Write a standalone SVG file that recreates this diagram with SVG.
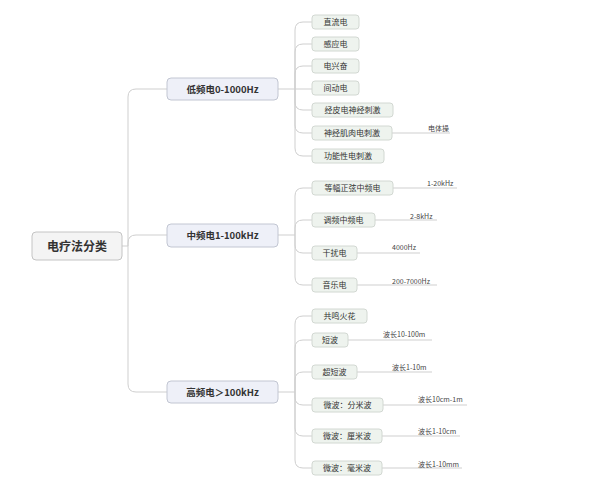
<svg xmlns="http://www.w3.org/2000/svg" width="592" height="484" viewBox="0 0 592 484">
<style>
text{font-family:"Noto Sans CJK SC","Noto Sans",sans-serif;fill:#333;}
.root rect{fill:#f4f4f4;stroke:#c4c4c4;stroke-width:1;}
.root text{font-size:12px;font-weight:bold;}
.mid rect{fill:#eef0f8;stroke:#c2c6d2;stroke-width:1;}
.mid text{font-size:9.5px;font-weight:bold;}
.leaf rect{fill:#eef3ee;stroke:#d2d8d2;stroke-width:1;}
.leaf text{font-size:8px;}
.lbl{font-size:7px;fill:#444;}
.con path{fill:none;stroke:#cfcfcf;stroke-width:1;}
</style>
<rect width="592" height="484" fill="#fff"/>
<g class="con">
<path d="M122,246 H128 V97 Q128,89 136,89 H167"/>
<path d="M128,246 V243 Q128,235 136,235 H167"/>
<path d="M128,246 V384 Q128,392 136,392 H167"/>
<path d="M278,89 H295"/>
<path d="M295,89 V30 Q295,22 303,22 H312"/>
<path d="M295,89 V52 Q295,44 303,44 H312"/>
<path d="M295,89 V74 Q295,66 303,66 H312"/>
<path d="M295,89 H312"/>
<path d="M295,89 V102 Q295,110 303,110 H312"/>
<path d="M295,89 V125 Q295,133 303,133 H312"/>
<path d="M295,89 V148 Q295,156 303,156 H312"/>
<path d="M392,133 H450"/>
<path d="M278,235 H295"/>
<path d="M295,235 V196 Q295,188 303,188 H312"/>
<path d="M295,235 V228 Q295,220 303,220 H312"/>
<path d="M295,235 V245 Q295,253 303,253 H312"/>
<path d="M295,235 V277 Q295,285 303,285 H312"/>
<path d="M393,188 H457"/>
<path d="M375,220 H437"/>
<path d="M357,253 H420"/>
<path d="M357,285 H437"/>
<path d="M278,392 H295"/>
<path d="M295,392 V324 Q295,316 303,316 H312"/>
<path d="M295,392 V348 Q295,340 303,340 H312"/>
<path d="M295,392 V380 Q295,372 303,372 H312"/>
<path d="M295,392 V397 Q295,405 303,405 H312"/>
<path d="M295,392 V428 Q295,436 303,436 H312"/>
<path d="M295,392 V460 Q295,468 303,468 H312"/>
<path d="M348,340 H432"/>
<path d="M357,372 H432"/>
<path d="M383,405 H467"/>
<path d="M382,436 H460"/>
<path d="M382,468 H462"/>
</g>
<g id="root" class="root"><rect x="32" y="232" width="90" height="28" rx="4"/><text x="77" y="250.5" text-anchor="middle">电疗法分类</text></g>
<g id="low" class="mid"><rect x="167" y="78" width="111" height="22" rx="4"/><text x="222.5" y="92.5" text-anchor="middle">低频电0-1000Hz</text></g>
<g id="medium" class="mid"><rect x="167" y="224" width="111" height="23" rx="4"/><text x="222.5" y="239" text-anchor="middle">中频电1-100kHz</text></g>
<g id="high" class="mid"><rect x="167" y="381" width="111" height="22" rx="4"/><text x="222.5" y="395.5" text-anchor="middle">高频电＞100kHz</text></g>
<g id="l1" class="leaf"><rect x="312" y="15" width="47" height="14" rx="3"/><text x="335.5" y="25" text-anchor="middle">直流电</text></g>
<g id="l2" class="leaf"><rect x="312" y="37" width="47" height="14" rx="3"/><text x="335.5" y="47" text-anchor="middle">感应电</text></g>
<g id="l3" class="leaf"><rect x="312" y="59" width="47" height="14" rx="3"/><text x="335.5" y="69" text-anchor="middle">电兴奋</text></g>
<g id="l4" class="leaf"><rect x="312" y="81" width="47" height="14" rx="3"/><text x="335.5" y="91" text-anchor="middle">间动电</text></g>
<g id="l5" class="leaf"><rect x="312" y="103" width="81" height="14" rx="3"/><text x="352.5" y="113" text-anchor="middle">经皮电神经刺激</text></g>
<g id="l6" class="leaf"><rect x="312" y="126" width="80" height="14" rx="3"/><text x="352" y="136" text-anchor="middle">神经肌肉电刺激</text></g>
<g id="l7" class="leaf"><rect x="312" y="149" width="72" height="14" rx="3"/><text x="348" y="159" text-anchor="middle">功能性电刺激</text></g>
<text class="lbl" x="428" y="131">电体操</text>
<g id="m1" class="leaf"><rect x="312" y="181" width="81" height="14" rx="3"/><text x="352.5" y="191" text-anchor="middle">等幅正弦中频电</text></g>
<g id="m2" class="leaf"><rect x="312" y="213" width="63" height="14" rx="3"/><text x="343.5" y="223" text-anchor="middle">调频中频电</text></g>
<g id="m3" class="leaf"><rect x="312" y="246" width="45" height="14" rx="3"/><text x="334.5" y="256" text-anchor="middle">干扰电</text></g>
<g id="m4" class="leaf"><rect x="312" y="278" width="45" height="14" rx="3"/><text x="334.5" y="288" text-anchor="middle">音乐电</text></g>
<text class="lbl" x="427" y="186">1-20kHz</text>
<text class="lbl" x="410" y="219">2-8kHz</text>
<text class="lbl" x="392" y="250">4000Hz</text>
<text class="lbl" x="392" y="284">200-7000Hz</text>
<g id="h1" class="leaf"><rect x="312" y="309" width="55" height="14" rx="3"/><text x="339.5" y="319" text-anchor="middle">共鸣火花</text></g>
<g id="h2" class="leaf"><rect x="312" y="333" width="36" height="14" rx="3"/><text x="330" y="343" text-anchor="middle">短波</text></g>
<g id="h3" class="leaf"><rect x="312" y="365" width="45" height="14" rx="3"/><text x="334.5" y="375" text-anchor="middle">超短波</text></g>
<g id="h4" class="leaf"><rect x="312" y="398" width="71" height="14" rx="3"/><text x="347.5" y="408" text-anchor="middle">微波：分米波</text></g>
<g id="h5" class="leaf"><rect x="312" y="429" width="70" height="14" rx="3"/><text x="347" y="439" text-anchor="middle">微波：厘米波</text></g>
<g id="h6" class="leaf"><rect x="312" y="461" width="70" height="14" rx="3"/><text x="347" y="471" text-anchor="middle">微波：毫米波</text></g>
<text class="lbl" x="383" y="337">波长10-100m</text>
<text class="lbl" x="392" y="370">波长1-10m</text>
<text class="lbl" x="418" y="402">波长10cm-1m</text>
<text class="lbl" x="418" y="434">波长1-10cm</text>
<text class="lbl" x="418" y="467">波长1-10mm</text>
</svg>
